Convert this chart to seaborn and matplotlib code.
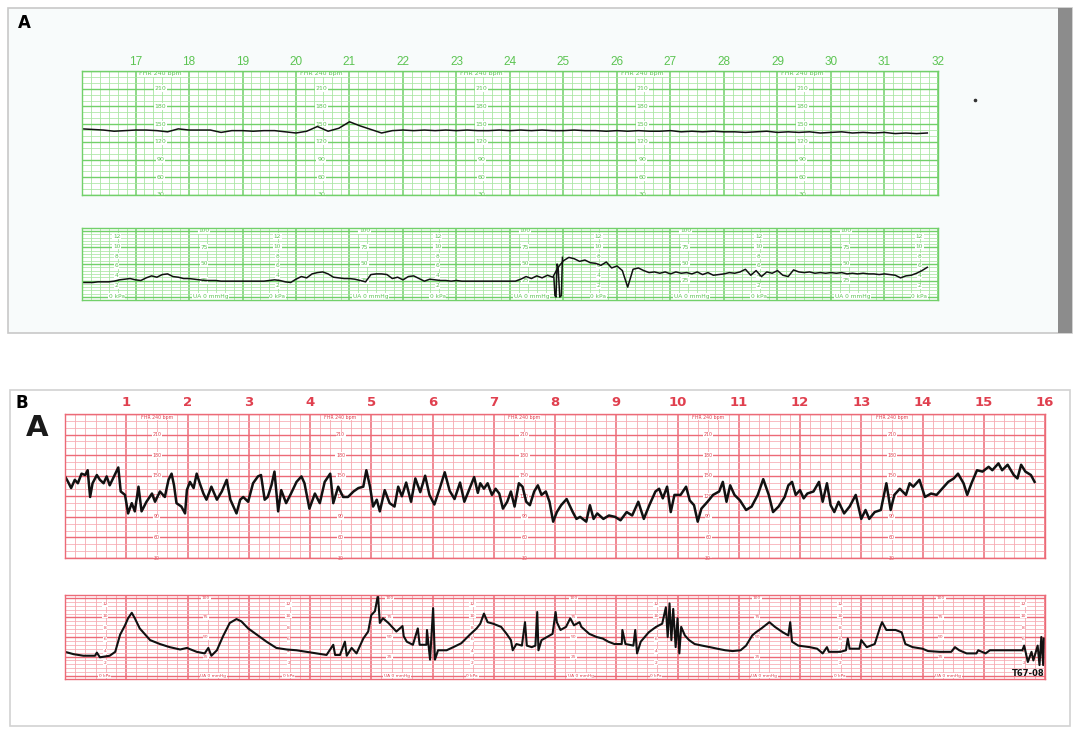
import numpy as np
import pandas as pd
import seaborn as sns
import matplotlib.pyplot as plt
from matplotlib.patches import Rectangle

W, H = 1084, 742

# ---------------- panel A (green paper, minutes 16-32) ----------------
# FHR every 0.2 min from minute 16
fhr_a = [142, 141, 140, 138, 139, 140, 140, 139, 137, 142,
         140, 140, 140, 136, 139, 139, 138, 139, 139, 137,
         135, 138, 146, 138, 143, 154, 147, 141, 135, 139,
         140, 139, 140, 139, 140, 139, 140, 139, 139, 140,
         139, 140, 139, 140, 139, 139, 140, 139, 139, 138,
         139, 138, 139, 138, 138, 139, 137, 138, 137, 138,
         137, 137, 136, 137, 138, 136, 137, 136, 137, 135,
         136, 137, 135, 136, 135, 136, 134, 135, 134, 135]

# UA every 0.1 min from minute 16
ua_a = [22, 22, 22, 23, 23, 23, 24, 26, 27, 28,
        26, 25, 29, 32, 30, 34, 35, 31, 30, 28,
        28, 27, 26, 25, 25, 25, 24, 24, 24, 24,
        24, 24, 24, 24, 24, 25, 26, 25, 23, 22,
        27, 31, 29, 35, 37, 38, 35, 30, 29, 28,
        28, 27, 25, 23, 34, 35, 35, 34, 28, 30,
        26, 31, 32, 28, 24, 27, 26, 25, 25, 24,
        25, 24, 24, 24, 24, 24, 24, 24, 24, 24,
        24, 24, 27, 31, 28, 32, 29, 33, 30, 45,
        55, 60, 58, 54, 56, 52, 51, 48, 53, 44,
        47, 40, 15, 42, 44, 40, 37, 38, 36, 38,
        35, 38, 36, 37, 35, 38, 34, 37, 33, 34,
        35, 37, 36, 38, 42, 33, 40, 31, 38, 36,
        40, 33, 31, 41, 38, 37, 38, 36, 37, 36,
        37, 36, 37, 35, 36, 35, 36, 35, 35, 34,
        35, 34, 33, 29, 32, 33, 36, 40, 45]
# probe artifact around minute 25
ua_a_spike_t = [24.82, 24.84, 24.86, 24.88, 24.90, 24.93, 24.96, 24.98]
ua_a_spike = [30, 2, 0, 50, 45, 0, 2, 60]

# ---------------- panel B (red paper, minutes 0-16) ----------------
fhr_b_t = [0.00, 0.05, 0.10, 0.16, 0.21, 0.27, 0.33, 0.37, 0.41, 0.45, 0.52, 0.57, 0.63, 0.68,
           0.73, 0.81, 0.87, 0.91, 0.98, 1.03, 1.09, 1.14, 1.20, 1.25, 1.33, 1.42, 1.47, 1.55,
           1.63, 1.69, 1.74, 1.78, 1.82, 1.90, 1.96, 1.99, 2.04, 2.10, 2.15, 2.20, 2.26, 2.31,
           2.39, 2.48, 2.56, 2.64, 2.70, 2.75, 2.80, 2.86, 2.91, 2.99, 3.07, 3.15, 3.20, 3.26,
           3.31, 3.37, 3.42, 3.48, 3.53, 3.61, 3.69, 3.78, 3.86, 3.91, 3.99, 4.08, 4.16, 4.24,
           4.33, 4.38, 4.46, 4.54, 4.62, 4.71, 4.79, 4.87, 4.92, 4.98, 5.03, 5.09, 5.14, 5.22,
           5.30, 5.38, 5.44, 5.50, 5.57, 5.65, 5.72, 5.80, 5.88, 5.95, 6.03, 6.12, 6.20, 6.28,
           6.36, 6.45, 6.52, 6.60, 6.68, 6.74, 6.78, 6.84, 6.90, 6.97, 7.03, 7.09, 7.15, 7.22,
           7.28, 7.34, 7.41, 7.47, 7.53, 7.59, 7.66, 7.72, 7.78, 7.85, 7.91, 7.97, 8.03, 8.10,
           8.19, 8.29, 8.35, 8.41, 8.51, 8.57, 8.63, 8.69, 8.79, 8.88, 8.98, 9.07, 9.17, 9.26,
           9.36, 9.45, 9.54, 9.64, 9.70, 9.76, 9.83, 9.89, 9.95, 10.05, 10.14, 10.20, 10.27,
           10.33, 10.39, 10.49, 10.58, 10.68, 10.74, 10.80, 10.86, 10.93, 11.02, 11.12, 11.21,
           11.31, 11.40, 11.49, 11.56, 11.65, 11.75, 11.81, 11.87, 11.93, 12.00, 12.06, 12.12,
           12.22, 12.31, 12.37, 12.44, 12.50, 12.56, 12.63, 12.72, 12.81, 12.91, 13.00, 13.07,
           13.13, 13.22, 13.32, 13.41, 13.48, 13.54, 13.63, 13.73, 13.79, 13.85, 13.95, 14.04,
           14.14, 14.23, 14.32, 14.42, 14.51, 14.58, 14.67, 14.73, 14.80, 14.89, 14.98, 15.08,
           15.14, 15.24, 15.30, 15.39, 15.49, 15.55, 15.61, 15.68, 15.77, 15.83]
fhr_b = [149, 141, 132, 144, 139, 153, 151, 158, 119, 139, 151, 144, 139, 149,
         136, 151, 162, 127, 122, 95, 110, 98, 134, 98, 112, 124, 112, 127,
         119, 144, 153, 136, 110, 105, 95, 129, 141, 132, 153, 139, 124, 115,
         134, 115, 127, 144, 115, 105, 95, 115, 119, 112, 139, 149, 151, 115,
         119, 136, 156, 98, 129, 110, 124, 141, 149, 139, 102, 124, 110, 141,
         153, 110, 134, 119, 119, 127, 132, 134, 158, 134, 105, 115, 98, 129,
         110, 105, 134, 120, 140, 112, 146, 126, 150, 122, 108, 132, 155, 128,
         116, 140, 112, 130, 148, 125, 139, 131, 139, 122, 131, 124, 102, 112,
         127, 105, 139, 134, 112, 107, 127, 136, 122, 127, 112, 83, 97, 107,
         116, 97, 87, 90, 83, 107, 87, 95, 87, 92, 90, 85, 97, 92,
         112, 87, 107, 127, 131, 117, 134, 97, 122, 122, 134, 114, 107,
         83, 102, 112, 122, 127, 141, 112, 136, 122, 114, 100, 105,
         122, 145, 122, 97, 105, 119, 136, 141, 122, 129, 117, 124,
         127, 141, 112, 139, 107, 97, 112, 95, 105, 122, 87, 100,
         87, 97, 100, 139, 100, 122, 131, 122, 139, 134, 144, 119,
         124, 122, 131, 141, 146, 153, 139, 122, 139, 158, 156, 163,
         158, 168, 158, 166, 151, 146, 166, 156, 151, 141]

ua_b_t = [0.00, 0.14, 0.30, 0.49, 0.52, 0.57, 0.73, 0.82, 0.90, 0.98, 1.03, 1.09, 1.14, 1.22,
          1.31, 1.39, 1.55, 1.71, 1.88, 1.99, 2.15, 2.28, 2.34, 2.39, 2.48, 2.58, 2.69, 2.80,
          2.88, 2.99, 3.13, 3.29, 3.45, 3.62, 3.78, 3.94, 4.11, 4.27, 4.38, 4.41, 4.49, 4.57,
          4.60, 4.68, 4.76, 4.87, 4.95, 5.00, 5.06, 5.11, 5.14, 5.19, 5.28, 5.41, 5.51, 5.53,
          5.58, 5.68, 5.76, 5.79, 5.90, 5.91, 5.96, 6.01, 6.04, 6.09, 6.23, 6.34, 6.47, 6.61,
          6.72, 6.78, 6.84, 6.90, 6.99, 7.12, 7.21, 7.28, 7.31, 7.37, 7.46, 7.51, 7.54, 7.62,
          7.68, 7.71, 7.73, 7.78, 7.87, 7.96, 8.01, 8.03, 8.09, 8.18, 8.25, 8.31, 8.40, 8.43,
          8.56, 8.68, 8.78, 8.87, 8.97, 9.09, 9.10, 9.15, 9.28, 9.31, 9.34, 9.40, 9.53, 9.65,
          9.75, 9.81, 9.84, 9.87, 9.90, 9.93, 9.97, 10.00, 10.03, 10.06, 10.12, 10.19, 10.28,
          10.40, 10.53, 10.65, 10.78, 10.90, 11.03, 11.12, 11.22, 11.28, 11.37, 11.50, 11.59,
          11.72, 11.81, 11.84, 11.87, 11.97, 12.16, 12.28, 12.37, 12.44, 12.47, 12.66, 12.75,
          12.78, 12.81, 12.97, 13.00, 13.09, 13.22, 13.31, 13.34, 13.41, 13.50, 13.56, 13.66,
          13.72, 13.84, 14.00, 14.09, 14.28, 14.47, 14.53, 14.60, 14.72, 14.88, 14.91, 15.03,
          15.10, 15.28, 15.47, 15.63, 15.66, 15.72, 15.78, 15.81, 15.88, 15.91, 15.94, 15.97,
          15.98]
ua_b = [31, 28, 26, 26, 30, 24, 26, 31, 53, 65, 74, 81, 74, 61,
        53, 46, 41, 37, 34, 36, 31, 29, 36, 26, 33, 51, 68, 73,
        70, 61, 53, 44, 36, 34, 33, 31, 29, 27, 40, 27, 27, 44,
        26, 36, 29, 48, 57, 78, 83, 104, 68, 74, 68, 57, 64, 51,
        44, 40, 61, 40, 40, 59, 21, 87, 21, 33, 33, 37, 42, 53,
        61, 67, 80, 69, 67, 63, 54, 46, 33, 41, 39, 69, 39, 37,
        39, 82, 33, 46, 50, 54, 82, 69, 59, 63, 74, 65, 69, 63,
        54, 50, 48, 44, 41, 41, 59, 41, 39, 59, 29, 44, 56, 63,
        67, 88, 50, 93, 46, 86, 37, 74, 29, 63, 52, 46, 41,
        39, 37, 35, 33, 32, 33, 39, 52, 56, 61, 69, 63,
        56, 52, 69, 44, 39, 37, 35, 29, 37, 31, 31, 33,
        48, 35, 35, 46, 37, 41, 63, 69, 59, 59, 59, 56,
        41, 37, 35, 32, 31, 31, 37, 33, 29, 29, 33, 29,
        33, 33, 33, 33, 39, 18, 31, 20, 39, 14, 50, 14,
        48]

fhr_labels = [210, 180, 150, 120, 90, 60, 30]
ua_labels = [100, 75, 50, 25]
kpa_labels = [12, 10, 8, 6, 4, 2]

fig = plt.figure(figsize=(W / 100, H / 100), dpi=100)
bg = fig.add_axes([0, 0, 1, 1])
bg.set_xlim(0, W)
bg.set_ylim(H, 0)
bg.axis('off')

# panel frames
bg.add_patch(Rectangle((8, 8), 1064, 325, fc='#f8fbfb', ec='#c8c8c8', lw=1.2))
bg.add_patch(Rectangle((1058, 8), 14, 325, fc='#8c8c8c', ec='none'))
bg.add_patch(Rectangle((10, 390), 1060, 336, fc='white', ec='#d2d2d2', lw=1.2))
bg.plot([975], [100], 'o', ms=1.6, color='#333333')

bg.text(24, 23, 'A', fontsize=12, fontweight='bold', ha='center', va='center')
bg.text(22, 403, 'B', fontsize=12, fontweight='bold', ha='center', va='center')
bg.text(37, 428, 'A', fontsize=21, fontweight='heavy', ha='center', va='center', color='#1a1a1a')


def px_axes(x0, y0, x1, y1):
    return fig.add_axes([x0 / W, 1 - y1 / H, (x1 - x0) / W, (y1 - y0) / H])


def paper(ax, t0, ylim, hlines, hmajor, thin, thick, face):
    ax.set_facecolor(face)
    ax.set_xlim(t0, t0 + 16)
    ax.set_ylim(*ylim)
    for i in range(16 * 6 + 1):
        major = i % 6 == 0
        ax.axvline(t0 + i / 6, color=thick if major else thin,
                   lw=1.1 if major else 0.6, zorder=0)
    for v in hlines:
        major = v in hmajor
        ax.axhline(v, color=thick if major else thin,
                   lw=1.0 if major else 0.55, zorder=0)
    ax.set_xticks([])
    ax.set_yticks([])
    for s in ax.spines.values():
        s.set_color(thick)
        s.set_linewidth(1.0)


def col_labels(ax, cols, items, color, size, face):
    for c in cols:
        for y, s, dx in items:
            ax.text(c + dx, y, s, fontsize=size, color=color, ha='center', va='center',
                    zorder=1, bbox=dict(boxstyle='square,pad=0.12', fc=face, ec='none'))


def minute_numbers(ax, minutes, color, offset, size, weight, family):
    for m in minutes:
        ax.annotate(str(m), (m, 1), xycoords=('data', 'axes fraction'),
                    xytext=(0, offset), textcoords='offset points', ha='center',
                    va='center', fontsize=size, color=color, fontweight=weight,
                    family=family)


fhr_lines = list(range(30, 241, 10))
fhr_major = list(range(30, 241, 30))
ua_lines = list(range(0, 101, 5))
ua_major = [0, 25, 50, 75, 100]

# ---- A: green ----
g_thin, g_thick, g_text = '#a9e6a3', '#72d06a', '#5cc452'
ax1 = px_axes(82, 71, 938, 195)
paper(ax1, 16, (30, 240), fhr_lines, fhr_major, g_thin, g_thick, 'white')
col_labels(ax1, [17.47, 20.47, 23.47, 26.47, 29.47],
           [(v, str(v), 0) for v in fhr_labels] + [(235.5, 'FHR 240 bpm', 0)],
           g_text, 4.5, 'white')
minute_numbers(ax1, range(17, 33), g_text, 6.5, 8.5, 'normal',
               ['Liberation Sans Narrow', 'Liberation Sans'])
t_fhr_a = 16 + 0.2 * np.arange(len(fhr_a))
sns.lineplot(x=t_fhr_a, y=fhr_a, ax=ax1, color='#111111', lw=1.1,
             estimator=None, sort=False, legend=False)

ax2 = px_axes(82, 228, 938, 300)
paper(ax2, 16, (-4.5, 104.5), ua_lines, ua_major, g_thin, g_thick, 'white')
col_labels(ax2, [16.65, 19.65, 22.65, 25.65, 28.65, 31.65],
           [(k * 7.5 + 2, str(k), 0) for k in kpa_labels] + [(0.5, '0 kPa', 0)],
           g_text, 4.2, 'white')
col_labels(ax2, [18.28, 21.28, 24.28, 27.28, 30.28],
           [(v, str(v), 0) for v in ua_labels] + [(0.5, 'UA 0 mmHg', 0.12)],
           g_text, 4.2, 'white')
t_ua_a = 16 + 0.1 * np.arange(len(ua_a))
sns.lineplot(x=t_ua_a, y=ua_a, ax=ax2, color='#111111', lw=1.1,
             estimator=None, sort=False, legend=False)
sns.lineplot(x=ua_a_spike_t, y=ua_a_spike, ax=ax2, color='#111111', lw=1.1,
             estimator=None, sort=False, legend=False)

# ---- B: red ----
r_thin, r_thick, r_text = '#f6a9b1', '#ec6a77', '#e0404f'
ax3 = px_axes(65, 414, 1045, 558)
paper(ax3, 0, (30, 240), fhr_lines, fhr_major, r_thin, r_thick, 'white')
col_labels(ax3, [1.5, 4.5, 7.5, 10.5, 13.5],
           [(v, str(v), 0) for v in fhr_labels] + [(235.5, 'FHR 240 bpm', 0)],
           r_text, 3.4, 'white')
minute_numbers(ax3, range(1, 17), r_text, 8.6, 9.5, 'bold', ['DejaVu Sans'])
sns.lineplot(x=fhr_b_t, y=fhr_b, ax=ax3, color='#111111', lw=1.8,
             estimator=None, sort=False, legend=False)

ax4 = px_axes(65, 595, 1045, 679)
paper(ax4, 0, (-3.8, 103.8), ua_lines, ua_major, r_thin, r_thick, 'white')
# last kPa column sits under the strip code, so its bottom label is left out
kpa_b_items = [(k * 7.5 + 2, str(k), 0) for k in kpa_labels]
col_labels(ax4, [0.65, 3.65, 6.65, 9.65, 12.65],
           kpa_b_items + [(0.5, '0 kPa', 0)], r_text, 3.2, 'white')
col_labels(ax4, [15.65], kpa_b_items, r_text, 3.2, 'white')
col_labels(ax4, [2.3, 5.3, 8.3, 11.3, 14.3],
           [(v, str(v), 0) for v in ua_labels] + [(0.5, 'UA 0 mmHg', 0.12)],
           r_text, 3.2, 'white')
sns.lineplot(x=ua_b_t, y=ua_b, ax=ax4, color='#111111', lw=1.5,
             estimator=None, sort=False, legend=False)
ax4.text(15.72, 3, 'T67-08', fontsize=6, fontweight='bold', color='#111111',
         ha='center', va='center', zorder=3)

fig.savefig('out.png', dpi=100)
